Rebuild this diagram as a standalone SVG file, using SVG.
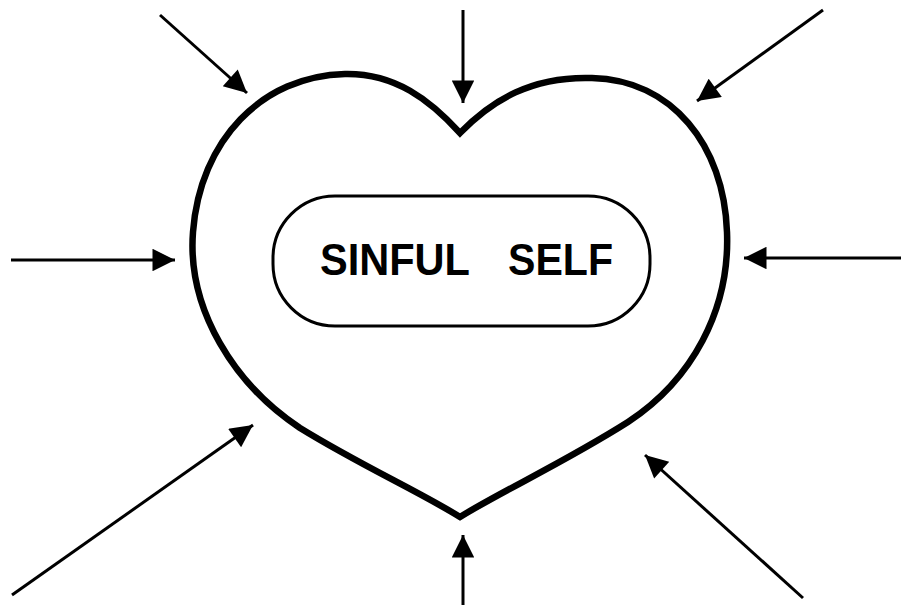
<svg xmlns="http://www.w3.org/2000/svg" width="904" height="608" viewBox="0 0 904 608">
<style>
.conn{stroke:#000;stroke-width:3;fill:none;marker-end:url(#ah)}
.heart{fill:none;stroke:#000;stroke-width:6.5;stroke-linejoin:miter}
.pill{fill:none;stroke:#000;stroke-width:3}
.lbl{font-family:"Liberation Sans",Arial,sans-serif;font-weight:bold;font-size:44px;fill:#000}
</style>
<defs>
<marker id="ah" viewBox="0 0 10 10" refX="10" refY="5" markerWidth="8" markerHeight="7.5" markerUnits="strokeWidth" orient="auto">
<path d="M0,0 L10,5 L0,10 Z" fill="#000"/>
</marker>
</defs>
<rect width="904" height="608" fill="#fff"/>
<g id="heart">
<path class="heart" d="M460,133 C430,100 395,73 345,74 C262,76 200,140 193,232 C187,310 235,385 300,428 C360,465 420,492 460,517 C500,492 565,462 628,422 C692,380 730,310 727,232 C724,145 672,80 592,78 C532,76 492,100 460,133 Z"/>
</g>
<g id="sinful-self">
<rect class="pill" x="273" y="196" width="377" height="130" rx="62" ry="62"/>
<text class="lbl" x="320" y="275" textLength="150" lengthAdjust="spacingAndGlyphs">SINFUL</text>
<text class="lbl" x="508" y="275" textLength="105" lengthAdjust="spacingAndGlyphs">SELF</text>
</g>
<g id="connectors">
<line class="conn" x1="160" y1="15" x2="247" y2="93"/>
<line class="conn" x1="463" y1="10" x2="463" y2="103"/>
<line class="conn" x1="823" y1="10" x2="697" y2="101"/>
<line class="conn" x1="11" y1="260" x2="175" y2="260"/>
<line class="conn" x1="901" y1="258" x2="744" y2="258"/>
<line class="conn" x1="12" y1="595" x2="253" y2="425"/>
<line class="conn" x1="463" y1="605" x2="463" y2="535"/>
<line class="conn" x1="803" y1="598" x2="645" y2="455"/>
</g>
</svg>
